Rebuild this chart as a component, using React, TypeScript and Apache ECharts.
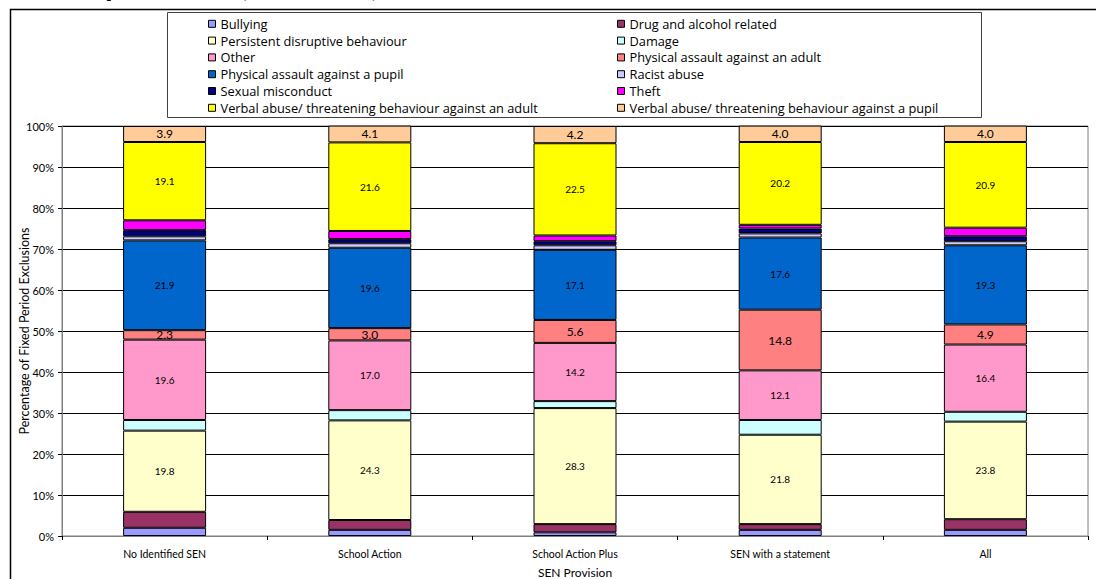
import React, { useEffect, useRef } from "react";
import * as echarts from "echarts";

const categories = ["No Identified SEN", "School Action", "School Action Plus", "SEN with a statement", "All"];

const bullying = [2.0, 1.5, 0.9, 1.5, 1.5];
const drugAlcohol = [3.9, 2.4, 2.0, 1.4, 2.6];
const persistent = [19.8, 24.3, 28.3, 21.8, 23.8];
const damage = [2.6, 2.5, 1.7, 3.6, 2.4];
const other = [19.6, 17.0, 14.2, 12.1, 16.4];
const assaultAdult = [2.3, 3.0, 5.6, 14.8, 4.9];
const assaultPupil = [21.9, 19.6, 17.1, 17.6, 19.3];
const racist = [1.0, 1.1, 1.1, 1.0, 1.0];
const sexual = [1.5, 1.0, 1.0, 1.2, 1.2];
const theft = [2.4, 2.0, 1.4, 0.9, 2.1];
const verbalAdult = [19.1, 21.6, 22.5, 20.2, 20.9];
const verbalPupil = [3.9, 4.1, 4.2, 4.0, 4.0];

const yTicks = [0, 10, 20, 30, 40, 50, 60, 70, 80, 90, 100];

const seriesDefs = [
  { name: "Bullying", data: bullying, color: "#9999FF", label: 0 },
  { name: "Drug and alcohol related", data: drugAlcohol, color: "#993366", label: 0 },
  { name: "Persistent disruptive behaviour", data: persistent, color: "#FFFFCC", label: 10 },
  { name: "Damage", data: damage, color: "#CCFFFF", label: 0 },
  { name: "Other", data: other, color: "#FF99CC", label: 10 },
  { name: "Physical assault against an adult", data: assaultAdult, color: "#FF8080", label: 12 },
  { name: "Physical assault against a pupil", data: assaultPupil, color: "#0066CC", label: 10 },
  { name: "Racist abuse", data: racist, color: "#CCCCFF", label: 0 },
  { name: "Sexual misconduct", data: sexual, color: "#000080", label: 0 },
  { name: "Theft", data: theft, color: "#FF00FF", label: 0 },
  { name: "Verbal abuse/ threatening behaviour against an adult", data: verbalAdult, color: "#FFFF00", label: 10 },
  { name: "Verbal abuse/ threatening behaviour against a pupil", data: verbalPupil, color: "#FFCC99", label: 12 },
];

const FONT = "Lato";

export default function App() {
  const ref = useRef<HTMLDivElement>(null);
  useEffect(() => {
    document.body.style.margin = "0";
    const chart = echarts.init(ref.current!, null, { renderer: "svg" });
    const leftNames = seriesDefs.filter((_, i) => i % 2 === 0).map((s) => s.name);
    const rightNames = seriesDefs.filter((_, i) => i % 2 === 1).map((s) => s.name);
    const legendCommon = {
      orient: "vertical",
      top: 17.3,
      itemGap: 3.8,
      itemWidth: 7,
      itemHeight: 7,
      icon: "rect",
      itemStyle: { borderColor: "#000", borderWidth: 1 },
      textStyle: { fontFamily: "Open Sans", fontSize: 12.8, color: "#000", lineHeight: 12 },
      selectedMode: false,
      padding: 0,
    };
    chart.setOption({
      animation: false,
      backgroundColor: "#fff",
      textStyle: { fontFamily: FONT },
      graphic: [
        {
          type: "text",
          left: 105,
          top: -32,
          style: { text: "provision (2006/07)", font: "bold 31px Lato", fill: "#000" },
        },
        {
          type: "rect",
          shape: { x: 10.5, y: 9.5, width: 1200, height: 700 },
          style: { fill: "none", stroke: "#000", lineWidth: 1.5 },
          z: 10,
        },
        {
          type: "rect",
          shape: { x: 167.5, y: 12.5, width: 814, height: 105 },
          style: { fill: "none", stroke: "#404040", lineWidth: 1 },
          z: 10,
        },
      ],
      legend: [
        { ...legendCommon, left: 208, data: leftNames },
        { ...legendCommon, left: 617, data: rightNames },
      ],
      grid: {
        left: 62,
        right: 8,
        top: 126,
        bottom: 43,
        show: true,
        borderColor: "#808080",
        borderWidth: 1,
        outerBoundsMode: "none",
        containLabel: false,
      },
      xAxis: {
        type: "category",
        data: categories,
        name: "SEN Provision",
        nameLocation: "middle",
        nameGap: 30,
        nameMoveOverlap: false,
        nameTextStyle: { fontFamily: FONT, fontSize: 12, color: "#000" },
        axisLine: { lineStyle: { color: "#808080" } },
        axisTick: { show: true, length: 4, lineStyle: { color: "#000" } },
        axisLabel: { fontFamily: FONT, fontSize: 10.5, color: "#000", margin: 12 },
      },
      yAxis: {
        type: "value",
        min: 0,
        max: 100,
        interval: 10,
        name: "Percentage of Fixed Period Exclusions",
        nameLocation: "middle",
        nameGap: 31,
        nameMoveOverlap: false,
        nameTextStyle: { fontFamily: FONT, fontSize: 12.5, color: "#000" },
        axisLine: { show: true, lineStyle: { color: "#808080" } },
        axisTick: { show: true, length: 4, lineStyle: { color: "#000" } },
        axisLabel: {
          fontFamily: FONT,
          fontSize: 11,
          color: "#000",
          margin: 8,
          formatter: (v: number) => (yTicks.includes(v) ? v + "%" : ""),
        },
        splitLine: { lineStyle: { color: "#000", width: 1 } },
      },
      series: seriesDefs.map((s) => ({
        name: s.name,
        type: "bar",
        stack: "total",
        barWidth: 83,
        data: s.data,
        itemStyle: { color: s.color, borderColor: "#000", borderWidth: 1 },
        label: s.label
          ? {
              show: true,
              position: "inside",
              fontFamily: FONT,
              fontSize: s.label,
              color: "#000",
              formatter: (p: any) => Number(p.value).toFixed(1),
            }
          : { show: false },
      })),
    });
    return () => chart.dispose();
  }, []);
  return <div ref={ref} style={{ width: 1096, height: 579 }} />;
}
